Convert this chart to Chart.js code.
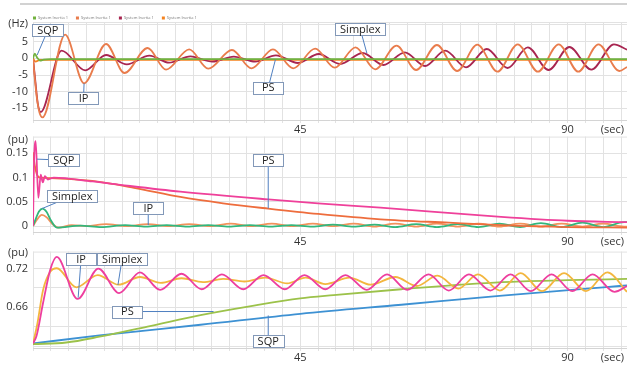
<!DOCTYPE html>
<html>
<head>
<meta charset="utf-8">
<script src="https://cdn.jsdelivr.net/npm/chart.js@4.4.1/dist/chart.umd.min.js"></script>
<style>
  html, body { margin: 0; padding: 0; background: #fff; }
  body { width: 627px; height: 365px; position: relative; overflow: hidden; font-family: "Open Sans", sans-serif; }
  canvas { position: absolute; left: 0; }
  #topRule { position: absolute; left: 20px; top: 3px; width: 607px; height: 2px; background: #d2d2d2; }
</style>
</head>
<body>
<div id="topRule"></div>
<canvas id="freq" width="627" height="137" style="top:0"></canvas>
<canvas id="power" width="627" height="125" style="top:125px"></canvas>
<canvas id="voltage" width="627" height="125" style="top:240px"></canvas>
<script>
// ---- time axis (seconds) ----
const timeGrid = [0, 3, 6, 9, 12, 15, 18, 21, 24, 27, 30, 33, 36, 39, 42, 45, 48, 51, 54, 57, 60, 63, 66, 69, 72, 75, 78, 81, 84, 87, 90, 93, 96, 99];
const timeLabels = [45, 90];

// ---- panel 1: frequency deviation (Hz) ----
const freqGrid = [-15, -10, -5, 0, 5, 10];
const freqLabels = [-15, -10, -5, 0, 5];

const freqSqpT = [0, 0.3, 0.7, 1.2, 1.8, 3, 100];
const freqSqpV = [0, 1.4, 0.2, -0.7, -0.4, -0.25, -0.25];

const freqIpT = [0, 0.3, 0.7, 1.1, 1.6, 5.4, 8.6, 12.3, 15.4, 19.3, 22.4, 26.3, 29.5, 33.5, 36.8, 40.4, 43.8, 47.5, 50.8, 54.3, 57.6, 61.2, 64.5, 68.0, 71.4, 74.8, 78.2, 81.6, 85.0, 88.5, 91.8, 95.2, 98.7, 100];
const freqIpV = [0, -6, -12.5, -16.3, -17.7, 7.1, -7.5, 4.3, -4.4, 3.1, -3.4, 2.7, -3.1, 2.5, -3.0, 2.7, -3.0, 2.9, -2.8, 3.3, -3.3, 3.8, -3.5, 4.0, -3.8, 4.1, -4.0, 4.2, -4.0, 4.2, -4.0, 4.2, -3.8, -2.6];

const freqSimplexT = [0, 0.4, 0.8, 1.3, 4.8, 8.8, 12.3, 15.8, 19.6, 22.9, 26.5, 30.2, 33.8, 37.4, 40.9, 44.6, 48.1, 51.7, 55.5, 59.0, 62.6, 66.0, 69.4, 72.9, 76.4, 79.9, 83.3, 86.8, 90.3, 94.0, 97.8, 100];
const freqSimplexV = [0, -7, -13.5, -16.1, 2.3, -3.6, 1.0, -1.8, 0.8, -1.3, 0.6, -1.0, 0.5, -1.0, 0.9, -1.4, 1.3, -1.7, 1.6, -2.0, 1.8, -2.3, 2.3, -2.7, 2.8, -2.9, 3.3, -3.5, 3.4, -3.4, 4.2, 2.6];

const freqPsT = [0, 0.4, 1.2, 100];
const freqPsV = [0, -1.0, -0.45, -0.45];

// ---- panel 2: power (pu) ----
const powerGrid = [0, 0.05, 0.1, 0.15];
const powerLabels = [0, 0.05, 0.1, 0.15];

const powerSqpT = [0, 0.15, 0.45, 0.9, 1.3, 1.65, 2.0, 2.5, 3.5, 10, 14.7, 24.8, 39.6, 48, 58.5, 78.8, 90, 100];
const powerSqpV = [0, 0.12, 0.175, 0.058, 0.106, 0.09, 0.103, 0.096, 0.1, 0.092, 0.085, 0.071, 0.055, 0.047, 0.038, 0.019, 0.011, 0.008];

const powerPsT = [0, 0.3, 0.7, 1.2, 3, 10, 17, 24.8, 32, 39.6, 48, 58.5, 70, 78.8, 90, 100];
const powerPsV = [0.152, 0.125, 0.105, 0.1, 0.099, 0.093, 0.079, 0.06, 0.047, 0.036, 0.025, 0.014, 0.007, 0.002, -0.002, -0.003];

const powerSimplexT = [0, 0.5, 1.0, 1.6, 2.3, 3.0, 4.0, 8.0, 11.5, 15.5, 19, 22.5, 26, 29.5, 33, 36.5, 40, 43.5, 47, 50.5, 54, 57.5, 61, 64.5, 68, 71.5, 75, 78.5, 82, 85.5, 89, 92.5, 96, 99.5, 100];
const powerSimplexV = [0, 0.016, 0.03, 0.036, 0.029, 0.012, -0.003, 0.001, -0.002, 0.002, -0.001, 0.002, -0.001, 0.002, -0.001, 0.002, -0.001, 0.002, -0.001, 0.003, -0.001, 0.003, -0.002, 0.004, -0.002, 0.004, -0.002, 0.005, -0.002, 0.006, -0.002, 0.007, -0.002, 0.008, 0.008];

const powerIpT = [0, 0.6, 1.5, 2.3, 3.2, 4.3, 6.5, 9, 12.3, 15.8, 19.3, 22.8, 26.3, 29.8, 33.3, 36.7, 40.2, 43.6, 47.1, 50.5, 54.0, 57.5, 61.0, 64.5, 68.0, 71.5, 75.0, 78.5, 82.0, 85.5, 89.0, 92.5, 96.0, 99.5, 100];
const powerIpV = [0, 0.012, 0.023, 0.018, 0.005, -0.003, 0.002, 0.0, 0.004, 0.0, 0.004, 0.0, 0.004, 0.0, 0.005, 0.0, 0.005, 0.0, 0.005, 0.0, 0.005, -0.001, 0.005, -0.001, 0.005, -0.001, 0.005, -0.001, 0.005, -0.001, 0.005, -0.001, 0.005, -0.001, -0.001];

// ---- panel 3: voltage (pu) ----
const voltGrid = [0.60, 0.63, 0.66, 0.69, 0.72];
const voltLabels = [0.66, 0.72];

const voltIpT = [0, 0.6, 1.7, 2.9, 4.0, 7.5, 11.0, 14.5, 18.0, 21.4, 25.0, 28.4, 31.8, 35.4, 38.8, 42.4, 45.7, 49.2, 52.6, 56.2, 59.6, 63.0, 66.6, 70.0, 73.4, 77.0, 80.4, 83.8, 87.3, 90.8, 94.2, 97.9, 100];
const voltIpV = [0.604, 0.616, 0.667, 0.718, 0.738, 0.673, 0.720, 0.682, 0.714, 0.687, 0.712, 0.688, 0.711, 0.688, 0.710, 0.688, 0.710, 0.688, 0.710, 0.687, 0.711, 0.687, 0.711, 0.686, 0.711, 0.686, 0.711, 0.685, 0.711, 0.685, 0.711, 0.684, 0.693];

const voltSimplexT = [0, 0.7, 1.7, 2.9, 4.0, 7.3, 10.9, 14.4, 18.0, 21.5, 25.0, 28.6, 32.0, 35.6, 39.1, 42.8, 45.9, 49.2, 53.3, 56.8, 61.0, 64.6, 68.1, 71.6, 74.9, 78.6, 82.1, 85.7, 89.4, 93.1, 96.7, 100];
const voltSimplexV = [0.604, 0.633, 0.687, 0.715, 0.7205, 0.691, 0.710, 0.695, 0.707, 0.698, 0.705, 0.699, 0.704, 0.700, 0.706, 0.697, 0.706, 0.696, 0.706, 0.695, 0.707, 0.693, 0.709, 0.689, 0.711, 0.686, 0.713, 0.685, 0.713, 0.685, 0.714, 0.684];

const voltPsT = [0, 5.6, 11.2, 19.7, 28.2, 36.7, 45, 50.6, 62, 79, 90, 100];
const voltPsV = [0.603, 0.6055, 0.6145, 0.631, 0.648, 0.662, 0.674, 0.679, 0.688, 0.699, 0.702, 0.704];

const voltSqpT = [0, 11.2, 28.2, 45, 62, 79, 96, 100];
const voltSqpV = [0.604, 0.6165, 0.633, 0.650, 0.664, 0.678, 0.691, 0.694];

// ---- shared styling ----
const TEXT = '#333333';
const GRID = '#e2e2e2';
const FONT = '"Open Sans", sans-serif';

function toPoints(ts, vs) {
  return ts.map((t, i) => ({ x: t, y: vs[i] }));
}

// higher "order" values end up painted over the others
function series(label, color, ts, vs, order) {
  return {
    label,
    data: toPoints(ts, vs),
    borderColor: color,
    backgroundColor: color,
    borderWidth: 1.8,
    pointRadius: 0,
    cubicInterpolationMode: 'monotone',
    fill: false,
    order
  };
}

function timeAxis(height) {
  return {
    type: 'linear', min: 0, max: 100,
    afterBuildTicks: s => { s.ticks = timeGrid.map(v => ({ value: v })); },
    afterFit: s => { s.height = height; },
    ticks: {
      autoSkip: false, maxRotation: 0, minRotation: 0, padding: 0,
      color: TEXT, font: { family: FONT, size: 11 },
      callback: v => timeLabels.includes(v) ? String(v) : ''
    },
    grid: { color: GRID, lineWidth: 1, drawTicks: true, tickLength: 3 },
    border: { display: true, color: '#d4d4d4' }
  };
}

function valueAxis(min, max, grid, labels) {
  return {
    type: 'linear', min, max,
    afterBuildTicks: s => { s.ticks = grid.map(v => ({ value: v })); },
    afterFit: s => { s.width = 33; },
    ticks: {
      padding: 5, color: TEXT, font: { family: FONT, size: 11 },
      callback: v => labels.includes(v) ? String(v) : ''
    },
    grid: { color: GRID, lineWidth: 1, drawTicks: false },
    border: { display: false }
  };
}

// unit caption, "(sec)" caption, top frame line, callout boxes and the mini legend
const panelDecor = {
  id: 'panelDecor',
  beforeDatasetsDraw(chart, args, opts) {
    const a = chart.chartArea, ctx = chart.ctx;
    ctx.save();
    ctx.strokeStyle = GRID;
    ctx.lineWidth = 1;
    ctx.beginPath();
    ctx.moveTo(a.left, a.top + 0.5);
    ctx.lineTo(a.right, a.top + 0.5);
    ctx.stroke();
    ctx.restore();
  },
  afterDatasetsDraw(chart, args, opts) {
    const ctx = chart.ctx, xs = chart.scales.x, ys = chart.scales.y;
    ctx.save();
    ctx.font = '11px ' + FONT;
    for (const c of (opts.callouts || [])) {
      const bx = xs.getPixelForValue(c.box[0]), by = ys.getPixelForValue(c.box[1]);
      const tx = xs.getPixelForValue(c.tip[0]), ty = ys.getPixelForValue(c.tip[1]);
      ctx.strokeStyle = '#4f7fc0';
      ctx.lineWidth = 1;
      ctx.beginPath();
      ctx.moveTo(bx, by);
      ctx.lineTo(tx, ty);
      ctx.stroke();
      const w = Math.max(Math.round(ctx.measureText(c.text).width) + 10, 30), h = 12;
      const l = Math.round(bx - w / 2) + 0.5, t = Math.round(by - h / 2) + 0.5;
      ctx.fillStyle = '#fff';
      ctx.fillRect(l, t, w, h);
      ctx.strokeStyle = '#8298b8';
      ctx.strokeRect(l, t, w, h);
      ctx.fillStyle = '#1e1e1e';
      ctx.textAlign = 'center';
      ctx.textBaseline = 'middle';
      ctx.fillText(c.text, bx, by + 0.5);
    }
    ctx.restore();
  },
  afterDraw(chart, args, opts) {
    const ctx = chart.ctx, a = chart.chartArea;
    ctx.save();
    ctx.font = '11px ' + FONT;
    ctx.fillStyle = TEXT;
    ctx.textBaseline = 'middle';
    ctx.textAlign = 'right';
    ctx.fillText(opts.unit, 28, a.top + opts.unitDy);
    ctx.fillText('(sec)', a.right - 3, a.bottom + 3 + 6.6);
    if (opts.legend) {
      let x = a.left;
      const y = a.top - 4;
      ctx.font = '4px ' + FONT;
      ctx.textAlign = 'left';
      for (const ds of chart.data.datasets) {
        ctx.fillStyle = ds.borderColor;
        ctx.fillRect(x, y - 1.5, 3, 3);
        ctx.fillStyle = '#777';
        ctx.fillText(ds.label, x + 5, y);
        x += 5 + ctx.measureText(ds.label).width + 8;
      }
    }
    ctx.restore();
  }
};

function makeChart(id, datasets, yAxis, xHeight, padTop, decor) {
  return new Chart(document.getElementById(id), {
    type: 'line',
    data: { datasets },
    options: {
      responsive: false,
      animation: false,
      devicePixelRatio: 1,
      events: [],
      layout: { padding: { top: padTop, left: 0, right: 0, bottom: 0 } },
      scales: { x: timeAxis(xHeight), y: yAxis },
      plugins: { legend: { display: false }, tooltip: { enabled: false }, panelDecor: decor }
    },
    plugins: [panelDecor]
  });
}

makeChart('freq', [
  series('System Inertia 1', '#72b23e', freqSqpT, freqSqpV, 0),
  series('System Inertia 1', '#e97c4c', freqIpT, freqIpV, 1),
  series('System Inertia 1', '#a82550', freqSimplexT, freqSimplexV, 2),
  series('System Inertia 1', '#f5831f', freqPsT, freqPsV, 3)
], valueAxis(-18.5, 10.9, freqGrid, freqLabels), 17, 22, {
  unit: '(Hz)', unitDy: 2, legend: true,
  callouts: [
    { text: 'SQP', box: [2.5, 8.5], tip: [0.7, 1.0] },
    { text: 'IP', box: [8.5, -11.9], tip: [8.6, -7.5] },
    { text: 'PS', box: [39.6, -8.8], tip: [40.8, -0.45] },
    { text: 'Simplex', box: [55.1, 8.7], tip: [56.2, 1.6] }
  ]
});

makeChart('power', [
  series('SQP', '#ef409a', powerSqpT, powerSqpV, 0),
  series('PS', '#ee6d3d', powerPsT, powerPsV, 1),
  series('Simplex', '#33b67c', powerSimplexT, powerSimplexV, 2),
  series('IP', '#f2925c', powerIpT, powerIpV, 3)
], valueAxis(-0.0122, 0.1845, powerGrid, powerLabels), 18, 10, {
  unit: '(pu)', unitDy: 3, legend: false,
  callouts: [
    { text: 'SQP', box: [5.2, 0.136], tip: [0.67, 0.138] },
    { text: 'PS', box: [39.6, 0.136], tip: [39.6, 0.0365] },
    { text: 'Simplex', box: [6.6, 0.062], tip: [1.5, 0.036] },
    { text: 'IP', box: [19.4, 0.0375], tip: [19.4, 0.002] }
  ]
});

makeChart('voltage', [
  series('IP', '#ee3e9e', voltIpT, voltIpV, 0),
  series('Simplex', '#f3b63e', voltSimplexT, voltSimplexV, 1),
  series('PS', '#9cc24a', voltPsT, voltPsV, 2),
  series('SQP', '#3d91d3', voltSqpT, voltSqpV, 3)
], valueAxis(0.597, 0.7463, voltGrid, voltLabels), 17, 10, {
  unit: '(pu)', unitDy: 1, legend: false,
  callouts: [
    { text: 'IP', box: [8.1, 0.7349], tip: [7.6, 0.6748] },
    { text: 'Simplex', box: [15.0, 0.7349], tip: [14.3, 0.6946] },
    { text: 'PS', box: [15.9, 0.6535], tip: [30.4, 0.6535] },
    { text: 'SQP', box: [39.6, 0.6078], tip: [39.6, 0.6474] }
  ]
});
</script>
</body>
</html>
